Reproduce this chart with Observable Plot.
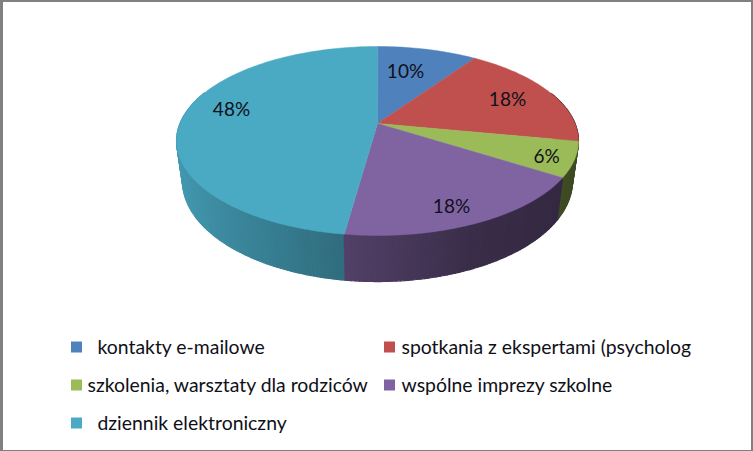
<!DOCTYPE html>
<html>
<head>
<meta charset="utf-8">
<script src="https://cdn.jsdelivr.net/npm/d3@7"></script>
<script src="https://cdn.jsdelivr.net/npm/@observablehq/plot@0.6"></script>
<style>
html,body{margin:0;padding:0;background:#fff}
svg{display:block}
</style>
</head>
<body>
<div id="chart"></div>
<script>
// data
const categories = ["kontakty e-mailowe","spotkania z ekspertami (psycholog","szkolenia, warsztaty dla rodziców","wspólne imprezy szkolne","dziennik elektroniczny"];
const values = [9.6,18.4,6,18.2,47.8];
const colors = ["#4f81bd","#c0504d","#9bbb59","#8064a2","#4aa9c3"];

// layout
const W = 753, H = 451;
const labelX = [405,507,546,451,231];
const labelY = [71,99,156,206,109];
const swatchX = [71,384,71,384,71];
const legendTextX = [97,401,87,401,97];
const legendY = [347,347,385,385,423];
const k = 0.185;
const topFace = {cx:377, cy:123, a:91.26, b:197.5};
const botFace = {cx:377, cy:161.8, a:97.2, b:191.6};
const stripStep = 1;

function project(f, deg){
  const t = deg*Math.PI/180, X = Math.sin(t), Z = -Math.cos(t), d = 1-k*Z;
  return {x:f.cx+f.b*X/d, y:f.cy+f.a*Z/d, X, Z};
}
const total = d3.sum(values);
const ends = Array.from(d3.cumsum(values)).map(v=>v/total*360);
const starts = [0,...ends.slice(0,-1)];
const shadeOf = d3.scaleLinear([-1,-0.13,0.4,0.9],[0.92,0.64,0.45,0.40]).clamp(true);
function shaded(color, f){
  const c = d3.rgb(color);
  return d3.rgb(c.r*f,c.g*f,c.b*f).formatHex();
}

// wall strips, back to front
const strips = [];
values.forEach((v,i)=>{
  for(let a=starts[i]; a<ends[i]-1e-6; a+=stripStep){
    const e = Math.min(a+stripStep, ends[i]);
    const mid = project(topFace,(a+e)/2);
    if(mid.Z<-0.35) continue;
    strips.push({a,e,i,Z:mid.Z,shade:shaded(colors[i],shadeOf(mid.X))});
  }
});
strips.sort((p,q)=>p.Z-q.Z);
const wallRows = strips.flatMap((s,n)=>{
  const p = [project(topFace,s.a),project(topFace,s.e),project(botFace,s.e),project(botFace,s.a)];
  return p.map(o=>({n,x:o.x,y:o.y,shade:s.shade}));
});

// top slices
const sliceRows = values.flatMap((v,i)=>{
  const rows = [{i,x:topFace.cx,y:topFace.cy,fill:colors[i]}];
  for(let a=starts[i];;a+=1){
    const d = Math.min(a,ends[i]);
    const o = project(topFace,d);
    rows.push({i,x:o.x,y:o.y,fill:colors[i]});
    if(d>=ends[i]) break;
  }
  return rows;
});

const labels = values.map((v,i)=>({text:Math.round(v)+"%",x:labelX[i],y:labelY[i]}));
const legend = categories.map((c,i)=>({c,fill:colors[i],sx:swatchX[i],tx:legendTextX[i],y:legendY[i]}));

const plot = Plot.plot({
  width:W, height:H, margin:0,
  style:{background:"#fff"},
  x:{domain:[0,W],range:[0,W],axis:null},
  y:{domain:[0,H],range:[0,H],axis:null},
  color:{type:"identity"},
  marks:[
    Plot.rect([{}],{x1:0,x2:W,y1:0,y2:H,fill:"#808080"}),
    Plot.rect([{}],{x1:3,x2:W-2,y1:2,y2:H-1,fill:"#ffffff"}),
    Plot.line(wallRows,{x:"x",y:"y",z:"n",fill:"shade",stroke:"shade",strokeWidth:1.2,curve:"linear-closed"}),
    Plot.line(sliceRows,{x:"x",y:"y",z:"i",fill:"fill",stroke:"fill",strokeWidth:0.5,curve:"linear-closed"}),
    Plot.text(labels,{x:"x",y:"y",text:"text",fontSize:19,fontFamily:"Lato",fill:"#101018"}),
    Plot.rect(legend,{x1:d=>d.sx,x2:d=>d.sx+11,y1:d=>d.y-5.5,y2:d=>d.y+5.5,fill:"fill"}),
    Plot.text(legend,{x:"tx",y:"y",text:"c",textAnchor:"start",fontSize:19.4,fontFamily:"Lato",fill:"#101018"})
  ]
});
document.getElementById("chart").append(plot);
</script>
</body>
</html>
